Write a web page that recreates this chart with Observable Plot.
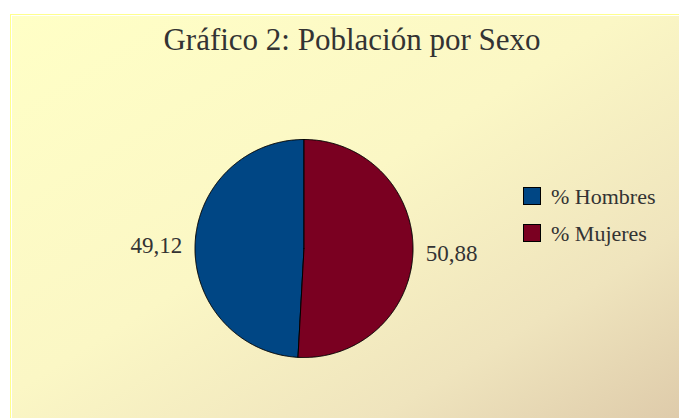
<!DOCTYPE html>
<html>
<head>
<meta charset="utf-8">
<style>
  html, body { margin: 0; padding: 0; background: #fff; }
  #chart {
    position: relative; width: 679px; height: 418px; overflow: hidden; background: #fff;
    font-family: 'Liberation Serif', serif; color: #333;
  }
  #box {
    position: absolute; left: 10px; top: 14px; width: 680px; height: 420px;
    border-left: 1px solid #ffff8c; border-top: 1px solid #ffff8c;
    box-shadow: inset 1px 1px 0 #ffffff;
    background: linear-gradient(to bottom right, #ffffc6 0%, #fbf7c5 45%, #efe4bd 75%, #dcc8a8 100%);
  }
  #title { position: absolute; left: 0; width: 704px; top: 22px; text-align: center; font-size: 31px; line-height: 36px; font-family: 'Liberation Serif', serif; }
  #plot { position: absolute; left: 0; top: 0; }
  .leg { position: absolute; left: 523px; font-size: 22px; line-height: 22px; white-space: nowrap; font-family: 'Liberation Serif', serif; }
  .sw { display: inline-block; width: 16px; height: 16px; border: 1px solid #000; vertical-align: -1px; margin-right: 10px; }
</style>
<script src="https://cdn.jsdelivr.net/npm/d3@7"></script>
<script src="https://cdn.jsdelivr.net/npm/@observablehq/plot@0.6"></script>
</head>
<body>
<div id="chart">
  <div id="box"></div>
  <div id="plot"></div>
  <div id="title">Gráfico 2: Población por Sexo</div>
  <div id="legend"></div>
</div>
<script>
const categories = ["% Hombres", "% Mujeres"];
const values = [49.12, 50.88];
const labels = ["49,12", "50,88"];
const colors = ["#004684", "#7a0021"];

const W = 679, H = 418;
const cx = 303.5, cy = 248, R = 109;

const total = d3.sum(values);
const start = -2 * Math.PI * values[0] / total;
const arcs = d3.pie().sort(null).startAngle(start).endAngle(start + 2 * Math.PI)(values);

const pts = [];
arcs.forEach((a, i) => {
  pts.push({name: categories[i], x: 0, y: 0});
  const n = Math.max(2, Math.ceil((a.endAngle - a.startAngle) / (Math.PI / 360)));
  for (let k = 0; k <= n; k++) {
    const t = a.startAngle + (a.endAngle - a.startAngle) * k / n;
    pts.push({name: categories[i], x: Math.sin(t), y: Math.cos(t)});
  }
  pts.push({name: categories[i], x: 0, y: 0});
});

const labelData = arcs.map((a, i) => {
  const m = (a.startAngle + a.endAngle) / 2;
  return {text: labels[i], x: 1.355 * Math.sin(m), y: 1.355 * Math.cos(m)};
});

const plot = Plot.plot({
  width: W, height: H,
  margin: 0,
  style: {background: "transparent", overflow: "visible", fontFamily: "'Liberation Serif', serif"},
  x: {domain: [-cx / R, (W - cx) / R], axis: null},
  y: {domain: [-(H - cy) / R, cy / R], axis: null},
  color: {domain: categories, range: colors},
  marks: [
    Plot.line(pts, {x: "x", y: "y", z: "name", fill: "name", stroke: "#000", strokeWidth: 1, curve: "linear", strokeLinejoin: "round"}),
    Plot.text(labelData, {x: "x", y: "y", text: "text", fontSize: 23, fill: "#333", dy: 1})
  ]
});
document.getElementById("plot").appendChild(plot);

const legend = document.getElementById("legend");
categories.forEach((c, i) => {
  const d = document.createElement("div");
  d.className = "leg";
  d.style.top = (186 + i * 37) + "px";
  d.innerHTML = `<span class="sw" style="background:${colors[i]}"></span>${c}`;
  legend.appendChild(d);
});
</script>
</body>
</html>
